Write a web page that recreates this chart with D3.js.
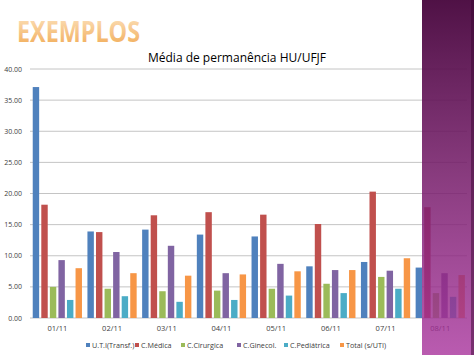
<!DOCTYPE html>
<html><head><meta charset="utf-8">
<script src="https://cdn.jsdelivr.net/npm/d3@7"></script>
<style>html,body{margin:0;padding:0;background:#fff;}svg{display:block;}</style>
</head><body>
<svg id="c" width="474" height="355"></svg>
<script>
const categories = ["01/11","02/11","03/11","04/11","05/11","06/11","07/11","08/11"];
const seriesNames = ["U.T.I(Transf.)","C.Médica","C.Cirurgica","C.Ginecol.","C.Pediátrica","Total (s/UTI)"];
const uti       = [37.1, 13.9, 14.2, 13.4, 13.1, 8.3, 9.0, 8.1];
const medica    = [18.2, 13.8, 16.5, 17.0, 16.6, 15.1, 20.3, 17.8];
const cirurgica = [5.0, 4.7, 4.3, 4.4, 4.7, 5.5, 6.6, 4.0];
const ginecol   = [9.3, 10.6, 11.6, 7.2, 8.7, 7.7, 7.6, 7.2];
const pediatrica= [2.9, 3.5, 2.6, 2.9, 3.6, 4.0, 4.7, 3.4];
const total     = [8.0, 7.2, 6.8, 7.0, 7.5, 7.7, 9.6, 6.9];
const yTicks = [0,5,10,15,20,25,30,35,40];
const colors = ["#4F81BD","#C0504D","#9BBB59","#8064A2","#4BACC6","#F79646"];
const series = [uti, medica, cirurgica, ginecol, pediatrica, total];

const svg = d3.select("#c");
const defs = svg.append("defs");
const tg = defs.append("linearGradient").attr("id","tg").attr("x1",0).attr("y1",0).attr("x2",0).attr("y2",1);
tg.append("stop").attr("offset","0%").attr("stop-color","#fde6c6");
tg.append("stop").attr("offset","100%").attr("stop-color","#f0a74e");
const pg = defs.append("linearGradient").attr("id","pg").attr("x1",0).attr("y1",0).attr("x2",0).attr("y2",1);
pg.append("stop").attr("offset","0%").attr("stop-color","#4a0a40").attr("stop-opacity",0.97);
pg.append("stop").attr("offset","50%").attr("stop-color","#761c6a").attr("stop-opacity",0.86);
pg.append("stop").attr("offset","100%").attr("stop-color","#a8329c").attr("stop-opacity",0.8);

const x0 = d3.scaleBand().domain(categories).range([30, 467.6]).paddingInner(0.1).paddingOuter(0.05);
const x1 = d3.scaleBand().domain(d3.range(6)).range([0, x0.bandwidth()]).paddingInner(0.25);
const y = d3.scaleLinear().domain([0,40]).range([318, 69]);

svg.append("g").selectAll("line").data(yTicks).join("line")
  .attr("x1",30).attr("x2",467).attr("y1",d=>y(d)).attr("y2",d=>y(d))
  .attr("stroke","#c4c4c4").attr("stroke-width",1);

svg.append("g").selectAll("text").data(yTicks).join("text")
  .attr("x",22).attr("y",d=>y(d)+2.5).attr("text-anchor","end")
  .attr("font-family","Open Sans, sans-serif").attr("font-size",7).attr("fill","#404040")
  .text(d=>d3.format(".2f")(d));

const g = svg.append("g");
categories.forEach((c,i)=>{
  series.forEach((s,j)=>{
    g.append("rect").attr("x", x0(c)+x1(j)).attr("width", x1.bandwidth())
      .attr("y", y(s[i])).attr("height", y(0)-y(s[i])).attr("fill", colors[j]);
  });
});

svg.append("g").selectAll("text").data(categories).join("text")
  .attr("x",d=>x0(d)+x0.bandwidth()/2).attr("y",331).attr("text-anchor","middle")
  .attr("font-family","Open Sans, sans-serif").attr("font-size",7.5).attr("fill","#404040")
  .text(d=>d);

const legX = [86,135,181,237,284,340];
const leg = svg.append("g");
seriesNames.forEach((n,j)=>{
  leg.append("rect").attr("x",legX[j]).attr("y",343).attr("width",4).attr("height",4).attr("fill",colors[j]);
  leg.append("text").attr("x",legX[j]+6).attr("y",347.5).attr("font-family","Open Sans, sans-serif")
    .attr("font-size",7.2).attr("fill","#404040").text(n);
});

svg.append("text").attr("x",237).attr("y",62).attr("text-anchor","middle")
  .attr("font-family","Open Sans, sans-serif").attr("font-size",12).attr("fill","#000")
  .text("Média de permanência HU/UFJF");

svg.append("text").attr("x",17).attr("y",42).attr("textLength",123).attr("lengthAdjust","spacingAndGlyphs")
  .attr("font-family","Open Sans, sans-serif").attr("font-weight","bold").attr("font-size",28)
  .attr("fill","url(#tg)").text("EXEMPLOS");

svg.append("rect").attr("x",422).attr("y",0).attr("width",52).attr("height",355)
  .attr("fill","url(#pg)");
svg.append("rect").attr("x",471).attr("y",0).attr("width",3).attr("height",355)
  .attr("fill","#3a0532").attr("opacity",0.5);
</script>
</body></html>
